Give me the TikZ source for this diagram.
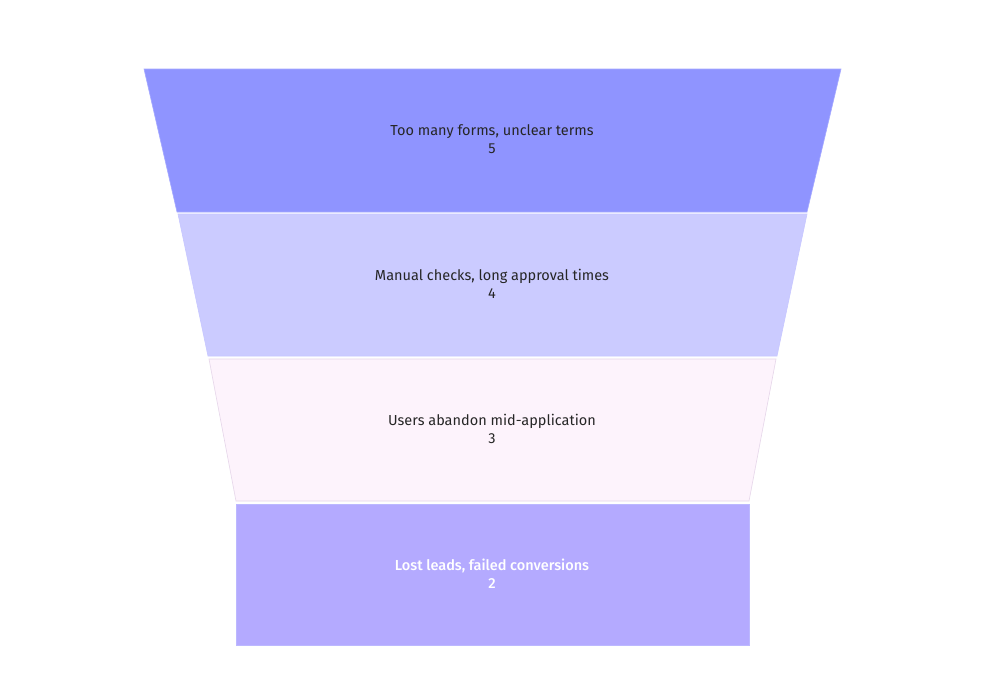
\documentclass[tikz,border=0pt]{standalone}
\usepackage{fontspec}
\setmainfont{Fira Sans}
\definecolor{cA}{HTML}{8F94FF}
\definecolor{cB}{HTML}{CBCBFF}
\definecolor{cC}{HTML}{FDF3FC}
\definecolor{cD}{HTML}{B4AAFF}
\definecolor{eC}{HTML}{E6D6EA}
\tikzset{seg/.style={line width=0.6pt},
lbl/.style={align=center,font=\fontsize{14.5pt}{18pt}\selectfont,text=black!85}}
\begin{document}
\begin{tikzpicture}[x=1pt,y=-1pt]
\useasboundingbox (0,0) rectangle (985,673);
\fill[white] (0,0) rectangle (985,673);
\filldraw[seg,fill=cA,draw=cA!80!white] (144,69) -- (841,69) -- (807,212) -- (177,212) -- cycle;
\filldraw[seg,fill=cB,draw=cB!80!blue!60] (178,214) -- (807,214) -- (777,356) -- (208,356) -- cycle;
\filldraw[seg,fill=cC,draw=eC] (209,359) -- (776,359) -- (749,501) -- (236,501) -- cycle;
\filldraw[seg,fill=cD,draw=cD!80!blue!60] (236,504) rectangle (749,645);
\node[lbl] (t1) at (492,139) {Too many forms, unclear terms\\5};
\node[lbl] (t2) at (492,284) {Manual checks, long approval times\\4};
\node[lbl] (t3) at (492,429) {Users abandon mid-application\\3};
\node[lbl,text=white,font=\fontsize{14.5pt}{18pt}\selectfont\fontspec{Fira Sans Medium}] (t4) at (492,574) {Lost leads, failed conversions\\2};
\end{tikzpicture}
\end{document}
